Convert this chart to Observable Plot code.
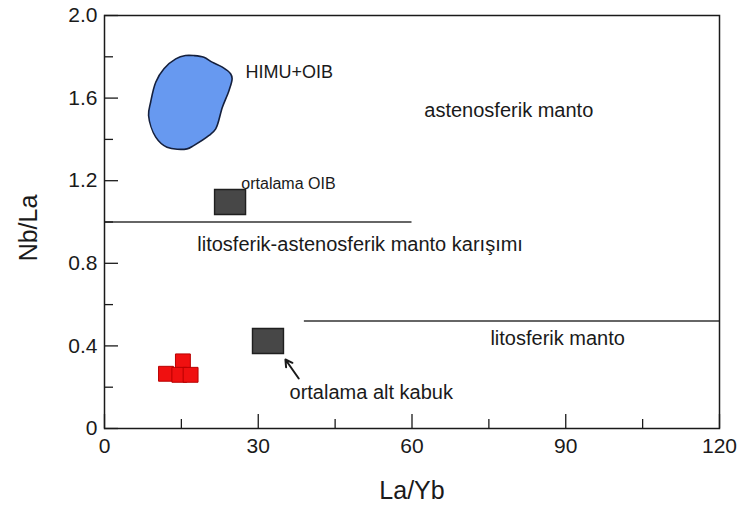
<!DOCTYPE html>
<html>
<head>
<meta charset="utf-8">
<script src="https://cdn.jsdelivr.net/npm/d3@7"></script>
<script src="https://cdn.jsdelivr.net/npm/@observablehq/plot@0.6"></script>
<style>
  html, body { margin: 0; padding: 0; background: #fff; }
  #chart svg { font-family: Arial, "Liberation Sans", sans-serif; }
</style>
</head>
<body>
<div id="chart"></div>
<script>
// ---- data ----
// HIMU+OIB field outline (La/Yb, Nb/La)
const himuX = [17.4, 19.4, 21.0, 23.0, 24.6, 24.9, 24.3, 23.0, 21.7, 20.4, 17.4, 16.1, 12.2, 10.0, 8.6, 9.0, 10.0, 11.6, 13.9, 15.8];
const himuY = [1.806, 1.798, 1.774, 1.750, 1.718, 1.695, 1.637, 1.556, 1.451, 1.419, 1.370, 1.354, 1.362, 1.411, 1.516, 1.580, 1.677, 1.742, 1.790, 1.806];

// samples (red squares)
const sampleX = [12.0, 15.3, 14.6, 16.8];
const sampleY = [0.265, 0.325, 0.26, 0.26];

// reference compositions (dark squares)
const refNames = ["ortalama OIB", "ortalama alt kabuk"];
const refX = [24.5, 31.9];
const refY = [1.097, 0.424];

// boundary lines
const boundY = [1.0, 0.52];
const boundX1 = [0, 39];
const boundX2 = [60, 120];

// field labels
const labelText = ["HIMU+OIB", "astenosferik manto", "ortalama OIB", "litosferik-astenosferik manto karışımı", "litosferik manto", "ortalama alt kabuk"];
const labelX = [27.5, 62.4, 26.7, 18.1, 75.3, 36.1];
const labelY = [1.724, 1.54, 1.186, 0.891, 0.436, 0.174];
const labelSize = [18, 20, 16, 20, 20, 20];

// arrow (tail -> tip)
const arrowX1 = [37.9], arrowY1 = [0.242], arrowX2 = [35.3], arrowY2 = [0.334];

// ticks
const xMajor = [0, 30, 60, 90, 120];
const xMinor = [15, 45, 75, 105];
const yMajor = [0, 0.4, 0.8, 1.2, 1.6, 2.0];
const yMinor = [0.2, 0.6, 1.0, 1.4, 1.8];
const yTickLabels = ["0", "0.4", "0.8", "1.2", "1.6", "2.0"];

// ---- build ----
const W = 739, H = 509, ML = 104, MR = 20, MT = 15, MB = 81;
const frameW = W - ML - MR, frameH = H - MT - MB;

const himu = himuX.map((x, i) => ({x, y: himuY[i]}));
const samples = sampleX.map((x, i) => ({x, y: sampleY[i]}));
const refs = refX.map((x, i) => ({name: refNames[i], x, y: refY[i]}));
const bounds = boundY.map((y, i) => ({y, x1: boundX1[i], x2: boundX2[i]}));
const labels = labelText.map((t, i) => ({t, x: labelX[i], y: labelY[i], s: labelSize[i]}));
const arrows = arrowX1.map((x1, i) => ({x1, y1: arrowY1[i], x2: arrowX2[i], y2: arrowY2[i]}));

const rectSymbol = {
  draw(ctx) { ctx.rect(-15.5, -12.5, 31, 25); }
};

const ink = "#1a1a1a";
const majorLen = 14, minorLen = 9;

const chart = Plot.plot({
  width: W,
  height: H,
  marginLeft: ML,
  marginRight: MR,
  marginTop: MT,
  marginBottom: MB,
  style: {fontFamily: "Arial, 'Liberation Sans', sans-serif", color: ink, background: "#fff"},
  x: {domain: [0, 120]},
  y: {domain: [0, 2.0]},
  marks: [
    // boundary lines
    Plot.ruleY(bounds, {y: "y", x1: "x1", x2: "x2", stroke: "#333", strokeWidth: 1.5}),
    // HIMU+OIB field
    Plot.line(himu, {x: "x", y: "y", curve: "catmull-rom-closed", fill: "#6799f0", stroke: "#15203d", strokeWidth: 1.6}),
    // reference squares
    Plot.dot(refs, {x: "x", y: "y", symbol: rectSymbol, fill: "#474747", stroke: "#1f1f1f", strokeWidth: 1.4}),
    // samples
    Plot.dot(samples, {x: "x", y: "y", symbol: "square", r: 8.4, fill: "#f01010", stroke: "#b80000", strokeWidth: 1}),
    // arrow
    Plot.arrow(arrows, {x1: "x1", y1: "y1", x2: "x2", y2: "y2", stroke: ink, strokeWidth: 2, headLength: 11}),
    // labels
    ...labels.map(l => Plot.text([l], {x: "x", y: "y", text: "t", textAnchor: "start", fontSize: l.s, fill: ink})),
    // inward ticks
    Plot.tickX(xMajor, {x: d => d, insetTop: frameH - majorLen, stroke: ink, strokeWidth: 1.3}),
    Plot.tickX(xMinor, {x: d => d, insetTop: frameH - minorLen, stroke: ink, strokeWidth: 1.3}),
    Plot.tickY(yMajor, {y: d => d, insetRight: frameW - majorLen, stroke: ink, strokeWidth: 1.3}),
    Plot.tickY(yMinor, {y: d => d, insetRight: frameW - minorLen, stroke: ink, strokeWidth: 1.3}),
    // tick labels
    Plot.axisX({ticks: xMajor, tickSize: 0, tickPadding: 10, fontSize: 21, label: null, tickFormat: d => String(d)}),
    Plot.axisY({ticks: yMajor, tickSize: 0, tickPadding: 7, fontSize: 21, label: null, tickFormat: d => yTickLabels[yMajor.indexOf(d)]}),
    // axis titles
    Plot.text(["La/Yb"], {frameAnchor: "bottom", textAnchor: "middle", dy: 70, fontSize: 25, fill: ink}),
    Plot.text(["Nb/La"], {frameAnchor: "left", textAnchor: "middle", dx: -76, dy: 6, rotate: -90, fontSize: 25, fill: ink}),
    Plot.frame({stroke: ink, strokeWidth: 1.5})
  ]
});

document.getElementById("chart").appendChild(chart);
</script>
</body>
</html>
